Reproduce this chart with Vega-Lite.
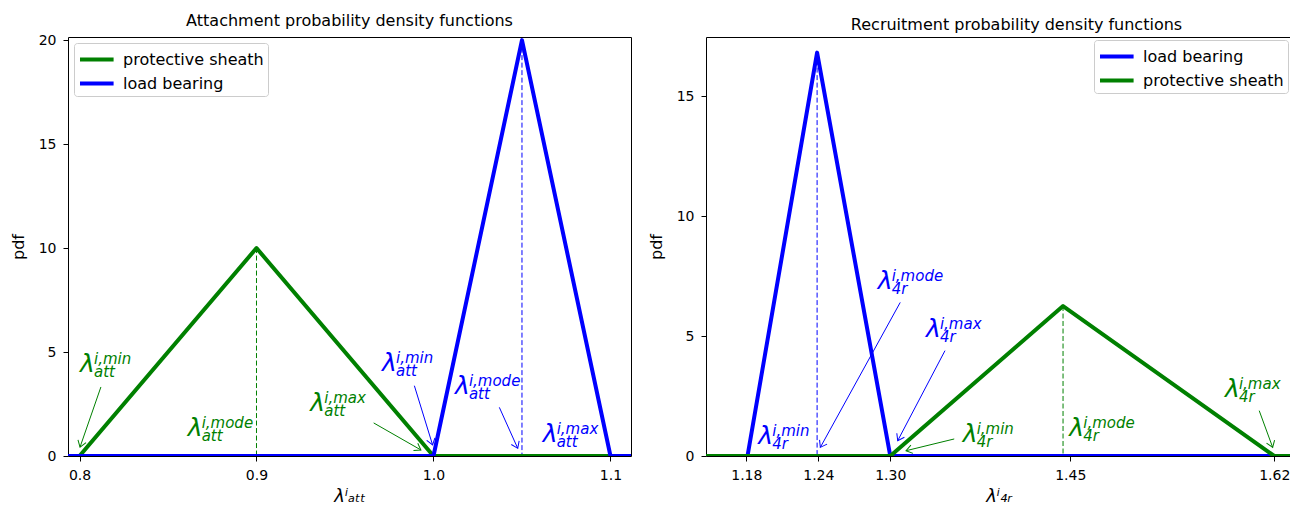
{
  "$schema": "https://vega.github.io/schema/vega-lite/v6.json",
  "padding": {"left": 9, "top": 12, "right": 0, "bottom": 0},
  "background": "white",
  "datasets": {
    "curves": [
      {"panel": "att", "series": "protective sheath", "x": 0.7, "pdf": 0},
      {"panel": "att", "series": "protective sheath", "x": 0.8, "pdf": 0},
      {"panel": "att", "series": "protective sheath", "x": 0.9, "pdf": 10},
      {"panel": "att", "series": "protective sheath", "x": 1.0, "pdf": 0},
      {"panel": "att", "series": "protective sheath", "x": 1.2, "pdf": 0},
      {"panel": "att", "series": "load bearing", "x": 0.7, "pdf": 0},
      {"panel": "att", "series": "load bearing", "x": 1.0, "pdf": 0},
      {"panel": "att", "series": "load bearing", "x": 1.05, "pdf": 20},
      {"panel": "att", "series": "load bearing", "x": 1.1, "pdf": 0},
      {"panel": "att", "series": "load bearing", "x": 1.2, "pdf": 0},
      {"panel": "rec", "series": "load bearing", "x": 1.1, "pdf": 0},
      {"panel": "rec", "series": "load bearing", "x": 1.181, "pdf": 0},
      {"panel": "rec", "series": "load bearing", "x": 1.239, "pdf": 16.81},
      {"panel": "rec", "series": "load bearing", "x": 1.30, "pdf": 0},
      {"panel": "rec", "series": "load bearing", "x": 1.7, "pdf": 0},
      {"panel": "rec", "series": "protective sheath", "x": 1.1, "pdf": 0},
      {"panel": "rec", "series": "protective sheath", "x": 1.30, "pdf": 0},
      {"panel": "rec", "series": "protective sheath", "x": 1.444, "pdf": 6.25},
      {"panel": "rec", "series": "protective sheath", "x": 1.62, "pdf": 0},
      {"panel": "rec", "series": "protective sheath", "x": 1.7, "pdf": 0}
    ],
    "modes": [
      {"panel": "att", "series": "protective sheath", "mode": 0.9, "peak": 10},
      {"panel": "att", "series": "load bearing", "mode": 1.05, "peak": 20},
      {"panel": "rec", "series": "load bearing", "mode": 1.239, "peak": 16.81},
      {"panel": "rec", "series": "protective sheath", "mode": 1.444, "peak": 6.25}
    ],
    "labels": [
      {"panel": "att", "series": "protective sheath", "lx": 0.8003, "ly": 4.04, "sup": "i,min", "sub": "att"},
      {"panel": "att", "series": "protective sheath", "lx": 0.8611, "ly": 0.98, "sup": "i,mode", "sub": "att"},
      {"panel": "att", "series": "protective sheath", "lx": 0.9304, "ly": 2.16, "sup": "i,max", "sub": "att"},
      {"panel": "att", "series": "load bearing", "lx": 0.9709, "ly": 4.09, "sup": "i,min", "sub": "att"},
      {"panel": "att", "series": "load bearing", "lx": 1.0121, "ly": 2.98, "sup": "i,mode", "sub": "att"},
      {"panel": "att", "series": "load bearing", "lx": 1.0617, "ly": 0.67, "sup": "i,max", "sub": "att"},
      {"panel": "rec", "series": "load bearing", "lx": 1.2895, "ly": 6.96, "sup": "i,mode", "sub": "4r"},
      {"panel": "rec", "series": "load bearing", "lx": 1.3297, "ly": 4.96, "sup": "i,max", "sub": "4r"},
      {"panel": "rec", "series": "load bearing", "lx": 1.19, "ly": 0.5, "sup": "i,min", "sub": "4r"},
      {"panel": "rec", "series": "protective sheath", "lx": 1.3603, "ly": 0.58, "sup": "i,min", "sub": "4r"},
      {"panel": "rec", "series": "protective sheath", "lx": 1.4492, "ly": 0.83, "sup": "i,mode", "sub": "4r"},
      {"panel": "rec", "series": "protective sheath", "lx": 1.5789, "ly": 2.46, "sup": "i,max", "sub": "4r"}
    ],
    "arrows": [
      {"panel": "att", "series": "protective sheath", "tx": 0.8121, "ty": 3.32, "hx": 0.8003, "hy": 0.43, "deg": 109},
      {"panel": "att", "series": "protective sheath", "tx": 0.9662, "ty": 1.59, "hx": 0.9929, "hy": 0.29, "deg": 30},
      {"panel": "att", "series": "load bearing", "tx": 0.9892, "ty": 3.38, "hx": 0.9995, "hy": 0.53, "deg": 73},
      {"panel": "att", "series": "load bearing", "tx": 1.0372, "ty": 2.34, "hx": 1.0476, "hy": 0.37, "deg": 66},
      {"panel": "rec", "series": "load bearing", "tx": 1.3083, "ty": 6.40, "hx": 1.2417, "hy": 0.36, "deg": 119},
      {"panel": "rec", "series": "load bearing", "tx": 1.3456, "ty": 4.39, "hx": 1.3062, "hy": 0.64, "deg": 118},
      {"panel": "rec", "series": "protective sheath", "tx": 1.3533, "ty": 0.71, "hx": 1.3131, "hy": 0.22, "deg": 166},
      {"panel": "rec", "series": "protective sheath", "tx": 1.6075, "ty": 1.89, "hx": 1.6187, "hy": 0.36, "deg": 70}
    ]
  },
  "hconcat": [
    {
      "width": 563,
      "height": 419,
      "title": {"text": "Attachment probability density functions"},
      "layer": [
        {
          "data": {"name": "modes"},
          "transform": [{"filter": "datum.panel === 'att'"}],
          "mark": {"type": "rule", "strokeWidth": 1, "strokeDash": [5, 2.5]},
          "encoding": {
            "x": {"field": "mode", "type": "quantitative", "scale": {"domain": [0.7935, 1.1116], "nice": false, "zero": false}, "axis": {"values": [0.8, 0.9, 1.0, 1.1], "format": ".1f", "title": "λⁱₐₜₜ"}},
            "y": {"field": "peak", "type": "quantitative", "scale": {"domain": [0, 20.15], "nice": false}, "axis": {"values": [0, 5, 10, 15, 20], "format": "d", "title": "pdf"}},
            "y2": {"datum": 0},
            "color": {"field": "series", "type": "nominal", "scale": {"domain": ["protective sheath", "load bearing"], "range": ["#008000", "#0000ff"]}, "legend": {"orient": "top-left", "symbolType": "M-1,0L2.2,0", "symbolStrokeWidth": 4, "symbolSize": 441, "title": null}}
          }
        },
        {
          "data": {"name": "curves"},
          "transform": [{"filter": "datum.panel === 'att' && datum.series === 'protective sheath'"}],
          "mark": {"type": "line", "strokeWidth": 4, "clip": true, "strokeJoin": "round"},
          "encoding": {
            "x": {"field": "x", "type": "quantitative"},
            "y": {"field": "pdf", "type": "quantitative"},
            "color": {"field": "series", "type": "nominal"}
          }
        },
        {
          "data": {"name": "curves"},
          "transform": [{"filter": "datum.panel === 'att' && datum.series === 'load bearing'"}],
          "mark": {"type": "line", "strokeWidth": 4, "clip": true, "strokeJoin": "round"},
          "encoding": {
            "x": {"field": "x", "type": "quantitative"},
            "y": {"field": "pdf", "type": "quantitative"},
            "color": {"field": "series", "type": "nominal"}
          }
        },
        {
          "data": {"name": "arrows"},
          "transform": [{"filter": "datum.panel === 'att'"}],
          "mark": {"type": "rule", "strokeWidth": 1},
          "encoding": {
            "x": {"field": "tx", "type": "quantitative"},
            "y": {"field": "ty", "type": "quantitative"},
            "x2": {"field": "hx"},
            "y2": {"field": "hy"},
            "color": {"field": "series", "type": "nominal"}
          }
        },
        {
          "data": {"name": "arrows"},
          "transform": [{"filter": "datum.panel === 'att'"}],
          "mark": {"type": "point", "shape": "M-1,-0.7L0,0L-1,0.7", "filled": false, "size": 150, "strokeWidth": 1, "opacity": 1},
          "encoding": {
            "x": {"field": "hx", "type": "quantitative"},
            "y": {"field": "hy", "type": "quantitative"},
            "angle": {"field": "deg", "type": "quantitative", "scale": null},
            "color": {"field": "series", "type": "nominal"}
          }
        },
        {
          "data": {"name": "labels"},
          "transform": [{"filter": "datum.panel === 'att'"}],
          "mark": {"type": "text", "fontSize": 25, "fontStyle": "italic", "align": "left", "baseline": "alphabetic"},
          "encoding": {
            "x": {"field": "lx", "type": "quantitative"},
            "y": {"field": "ly", "type": "quantitative"},
            "text": {"value": "λ"},
            "color": {"field": "series", "type": "nominal"}
          }
        },
        {
          "data": {"name": "labels"},
          "transform": [{"filter": "datum.panel === 'att'"}],
          "mark": {"type": "text", "fontSize": 15, "fontStyle": "italic", "align": "left", "baseline": "alphabetic", "dx": 14, "dy": -8},
          "encoding": {
            "x": {"field": "lx", "type": "quantitative"},
            "y": {"field": "ly", "type": "quantitative"},
            "text": {"field": "sup"},
            "color": {"field": "series", "type": "nominal"}
          }
        },
        {
          "data": {"name": "labels"},
          "transform": [{"filter": "datum.panel === 'att'"}],
          "mark": {"type": "text", "fontSize": 15, "fontStyle": "italic", "align": "left", "baseline": "alphabetic", "dx": 14, "dy": 5},
          "encoding": {
            "x": {"field": "lx", "type": "quantitative"},
            "y": {"field": "ly", "type": "quantitative"},
            "text": {"field": "sub"},
            "color": {"field": "series", "type": "nominal"}
          }
        }
      ]
    },
    {
      "width": 585,
      "height": 419,
      "title": {"text": "Recruitment probability density functions", "dx": 18},
      "layer": [
        {
          "data": {"name": "modes"},
          "transform": [{"filter": "datum.panel === 'rec'"}],
          "mark": {"type": "rule", "strokeWidth": 1, "strokeDash": [5, 2.5]},
          "encoding": {
            "x": {"field": "mode", "type": "quantitative", "scale": {"domain": [1.1464, 1.634], "nice": false, "zero": false}, "axis": {"values": [1.18, 1.24, 1.30, 1.45, 1.62], "format": ".2f", "title": "λⁱ₄ᵣ"}},
            "y": {"field": "peak", "type": "quantitative", "scale": {"domain": [0, 17.46], "nice": false}, "axis": {"values": [0, 5, 10, 15], "format": "d", "title": "pdf"}},
            "y2": {"datum": 0},
            "color": {"field": "series", "type": "nominal", "scale": {"domain": ["load bearing", "protective sheath"], "range": ["#0000ff", "#008000"]}, "legend": {"orient": "top-right", "symbolType": "M-1,0L2.2,0", "symbolStrokeWidth": 4, "symbolSize": 441, "title": null, "offset": 3}}
          }
        },
        {
          "data": {"name": "curves"},
          "transform": [{"filter": "datum.panel === 'rec' && datum.series === 'load bearing'"}],
          "mark": {"type": "line", "strokeWidth": 4, "clip": true, "strokeJoin": "round"},
          "encoding": {
            "x": {"field": "x", "type": "quantitative"},
            "y": {"field": "pdf", "type": "quantitative"},
            "color": {"field": "series", "type": "nominal"}
          }
        },
        {
          "data": {"name": "curves"},
          "transform": [{"filter": "datum.panel === 'rec' && datum.series === 'protective sheath'"}],
          "mark": {"type": "line", "strokeWidth": 4, "clip": true, "strokeJoin": "round"},
          "encoding": {
            "x": {"field": "x", "type": "quantitative"},
            "y": {"field": "pdf", "type": "quantitative"},
            "color": {"field": "series", "type": "nominal"}
          }
        },
        {
          "data": {"name": "arrows"},
          "transform": [{"filter": "datum.panel === 'rec'"}],
          "mark": {"type": "rule", "strokeWidth": 1},
          "encoding": {
            "x": {"field": "tx", "type": "quantitative"},
            "y": {"field": "ty", "type": "quantitative"},
            "x2": {"field": "hx"},
            "y2": {"field": "hy"},
            "color": {"field": "series", "type": "nominal"}
          }
        },
        {
          "data": {"name": "arrows"},
          "transform": [{"filter": "datum.panel === 'rec'"}],
          "mark": {"type": "point", "shape": "M-1,-0.7L0,0L-1,0.7", "filled": false, "size": 150, "strokeWidth": 1, "opacity": 1},
          "encoding": {
            "x": {"field": "hx", "type": "quantitative"},
            "y": {"field": "hy", "type": "quantitative"},
            "angle": {"field": "deg", "type": "quantitative", "scale": null},
            "color": {"field": "series", "type": "nominal"}
          }
        },
        {
          "data": {"name": "labels"},
          "transform": [{"filter": "datum.panel === 'rec'"}],
          "mark": {"type": "text", "fontSize": 25, "fontStyle": "italic", "align": "left", "baseline": "alphabetic"},
          "encoding": {
            "x": {"field": "lx", "type": "quantitative"},
            "y": {"field": "ly", "type": "quantitative"},
            "text": {"value": "λ"},
            "color": {"field": "series", "type": "nominal"}
          }
        },
        {
          "data": {"name": "labels"},
          "transform": [{"filter": "datum.panel === 'rec'"}],
          "mark": {"type": "text", "fontSize": 15, "fontStyle": "italic", "align": "left", "baseline": "alphabetic", "dx": 14, "dy": -8},
          "encoding": {
            "x": {"field": "lx", "type": "quantitative"},
            "y": {"field": "ly", "type": "quantitative"},
            "text": {"field": "sup"},
            "color": {"field": "series", "type": "nominal"}
          }
        },
        {
          "data": {"name": "labels"},
          "transform": [{"filter": "datum.panel === 'rec'"}],
          "mark": {"type": "text", "fontSize": 15, "fontStyle": "italic", "align": "left", "baseline": "alphabetic", "dx": 14, "dy": 5},
          "encoding": {
            "x": {"field": "lx", "type": "quantitative"},
            "y": {"field": "ly", "type": "quantitative"},
            "text": {"field": "sub"},
            "color": {"field": "series", "type": "nominal"}
          }
        }
      ]
    }
  ],
  "spacing": 75,
  "bounds": "flush",
  "resolve": {"scale": {"color": "independent", "x": "independent", "y": "independent"}, "legend": {"color": "independent"}},
  "config": {
    "font": "DejaVu Sans",
    "view": {"stroke": "#000000", "strokeWidth": 1},
    "title": {"font": "DejaVu Sans", "fontSize": 16, "fontWeight": "normal", "color": "#000000", "offset": 4, "anchor": "middle"},
    "axis": {
      "grid": false,
      "domain": false,
      "ticks": true,
      "tickSize": 5,
      "tickColor": "#000000",
      "tickWidth": 1,
      "labelFont": "DejaVu Sans",
      "labelFontSize": 14,
      "labelColor": "#000000",
      "labelPadding": 7,
      "titleFont": "DejaVu Sans",
      "titleFontSize": 16,
      "titleFontWeight": "normal",
      "titleColor": "#000000"
    },
    "axisY": {"titlePadding": 12},
    "axisX": {"titlePadding": 5, "titleFontStyle": "italic", "titleFontSize": 18},
    "legend": {
      "labelFont": "DejaVu Sans",
      "labelFontSize": 16,
      "labelColor": "#000000",
      "fillColor": "rgba(255,255,255,0.8)",
      "strokeColor": "#cccccc",
      "cornerRadius": 3,
      "padding": 4,
      "offset": 6,
      "labelOffset": 20,
      "rowPadding": 3
    }
  }
}
